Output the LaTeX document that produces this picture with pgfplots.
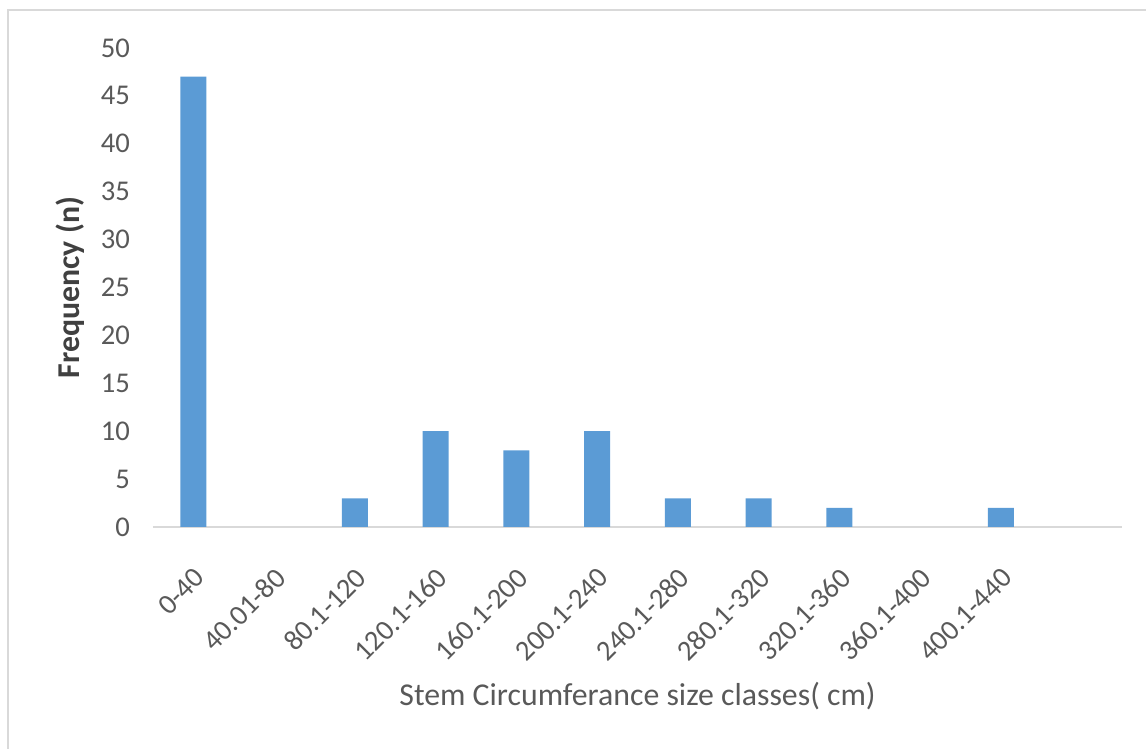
\documentclass[border=0pt]{standalone}
\usepackage{fontspec}
\setmainfont{Carlito}
\usepackage{pgfplots}
\pgfplotsset{compat=1.18}
\definecolor{barblue}{HTML}{5B9BD5}
\definecolor{tickgray}{HTML}{595959}
\definecolor{labelgray}{HTML}{404040}
\definecolor{linegray}{HTML}{D9D9D9}
\begin{document}
\begin{tikzpicture}
\path[use as bounding box] (0pt,0pt) rectangle (573pt,374.5pt);
\draw[linegray, line width=1pt] (4pt,0pt) -- (4pt,369.5pt) -- (573pt,369.5pt);
\begin{axis}[
  at={(76.5pt,111pt)}, anchor=south west,
  scale only axis, width=484.5pt, height=239.5pt,
  xmin=-0.5, xmax=11.5, ymin=0, ymax=50,
  ytick={0,5,...,50},
  xtick={0,1,...,10},
  xticklabels={0-40,40.01-80,80.1-120,120.1-160,160.1-200,200.1-240,240.1-280,280.1-320,320.1-360,360.1-400,400.1-440},
  axis line style={draw=none},
  tick style={draw=none},
  /pgf/number format/assume math mode=true,
  ticklabel style={font=\fontsize{14.3pt}{16pt}\selectfont, color=tickgray},
  xticklabel style={rotate=45, anchor=east, yshift=-15.5pt, xshift=-7.5pt},
  yticklabel style={anchor=east, xshift=-8pt},
  xlabel={Stem Circumferance size classes( cm)},
  ylabel={Frequency (n)},
  xlabel style={at={(axis description cs:0.5,-0.352)}, anchor=center, font=\fontsize{15.9pt}{18pt}\selectfont, color=tickgray},
  ylabel style={at={(axis description cs:-0.0857,0.5)}, anchor=center, rotate=0, font=\fontsize{15.9pt}{18pt}\selectfont\bfseries, color=labelgray},
  ybar, bar width=13pt,
  clip=false,
]
\draw[linegray, line width=1pt] (axis cs:-0.5,0) -- (axis cs:11.5,0);
\addplot[fill=barblue, draw=none] coordinates {
  (0,47) (2,3) (3,10) (4,8) (5,10) (6,3) (7,3) (8,2) (10,2)
};
\end{axis}
\end{tikzpicture}
\end{document}
